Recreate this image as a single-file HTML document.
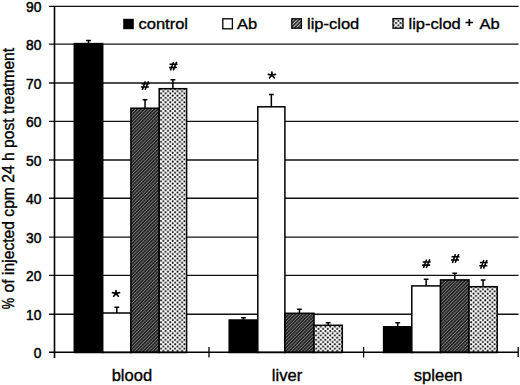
<!DOCTYPE html>
<html><head><meta charset="utf-8"><style>
html,body{margin:0;padding:0;background:#fff;}
body{width:520px;height:385px;overflow:hidden;position:relative;font-family:"Liberation Sans",sans-serif;}
svg{position:absolute;left:0;top:0;}
text{font-family:"Liberation Sans",sans-serif;fill:#000;}
</style></head><body>
<svg width="520" height="385" viewBox="0 0 520 385">
<defs>
<pattern id="hatch" patternUnits="userSpaceOnUse" width="2.4" height="2.4" patternTransform="rotate(-45)">
<rect width="2.4" height="2.4" fill="#222"/>
<rect width="2.4" height="0.8" fill="#828282"/>
</pattern>
<pattern id="hatchL" patternUnits="userSpaceOnUse" width="2.6" height="2.6" patternTransform="rotate(-45)">
<rect width="2.6" height="2.6" fill="#303030"/>
<rect width="2.6" height="1.0" fill="#c0c0c0"/>
</pattern>
<pattern id="dots" patternUnits="userSpaceOnUse" width="4.7" height="4.4">
<rect width="4.7" height="4.4" fill="#fff"/>
<circle cx="1.175" cy="1.1" r="1.0" fill="#000"/>
<circle cx="3.525" cy="3.3" r="1.0" fill="#000"/>
</pattern>
</defs>
<g stroke="#111" stroke-width="1.4">
<line x1="49" y1="6.4" x2="518.5" y2="6.4"/>
<line x1="49" y1="314.20" x2="518.5" y2="314.20"/>
<line x1="49" y1="275.40" x2="518.5" y2="275.40"/>
<line x1="49" y1="237.10" x2="518.5" y2="237.10"/>
<line x1="49" y1="198.30" x2="518.5" y2="198.30"/>
<line x1="49" y1="160.00" x2="518.5" y2="160.00"/>
<line x1="49" y1="121.40" x2="518.5" y2="121.40"/>
<line x1="49" y1="83.00" x2="518.5" y2="83.00"/>
<line x1="49" y1="44.10" x2="518.5" y2="44.10"/>
</g>
<g stroke="#000" stroke-width="1.5">
<rect x="74.3" y="43.6" width="28.4" height="308.90" fill="#000"/>
<rect x="102.7" y="313.0" width="28.2" height="39.50" fill="#fff"/>
<rect x="130.9" y="108.2" width="28.3" height="244.30" fill="url(#hatch)"/>
<rect x="159.2" y="88.7" width="27.4" height="263.80" fill="url(#dots)"/>
<rect x="229.2" y="320.0" width="28.6" height="32.50" fill="#000"/>
<rect x="257.8" y="106.8" width="27.1" height="245.70" fill="#fff"/>
<rect x="284.9" y="313.3" width="29.1" height="39.20" fill="url(#hatch)"/>
<rect x="314.0" y="325.3" width="28.3" height="27.20" fill="url(#dots)"/>
<rect x="383.6" y="326.8" width="28.2" height="25.70" fill="#000"/>
<rect x="411.8" y="285.9" width="28.7" height="66.60" fill="#fff"/>
<rect x="440.5" y="279.9" width="28.5" height="72.60" fill="url(#hatch)"/>
<rect x="469.0" y="286.7" width="28.2" height="65.80" fill="url(#dots)"/>
</g>
<g stroke="#000" stroke-width="1.5" fill="none">
<path d="M88.50 43.6V40.5M86.10 40.5H90.90"/>
<path d="M116.80 313.0V307.2M114.40 307.2H119.20"/>
<path d="M145.05 108.2V99.8M142.65 99.8H147.45"/>
<path d="M172.90 88.7V79.7M170.50 79.7H175.30"/>
<path d="M243.50 320.0V317.8M241.10 317.8H245.90"/>
<path d="M271.35 106.8V94.5M268.95 94.5H273.75"/>
<path d="M299.45 313.3V309.2M297.05 309.2H301.85"/>
<path d="M328.15 325.3V322.7M325.75 322.7H330.55"/>
<path d="M397.70 326.8V322.8M395.30 322.8H400.10"/>
<path d="M426.15 285.9V279.2M423.75 279.2H428.55"/>
<path d="M454.75 279.9V273.2M452.35 273.2H457.15"/>
<path d="M483.10 286.7V280.1M480.70 280.1H485.50"/>
</g>
<g stroke="#000" stroke-width="1.6">
<line x1="54.5" y1="6" x2="54.5" y2="358"/>
<line x1="49" y1="352.3" x2="518.5" y2="352.3" stroke-width="1.4"/>
<line x1="209" y1="347" x2="209" y2="357.5" stroke-width="1.3"/>
<line x1="363.6" y1="347" x2="363.6" y2="357.5" stroke-width="1.3"/>
<line x1="518.2" y1="347" x2="518.2" y2="357" stroke-width="1.3"/>
</g>
<g stroke="#000" stroke-width="0.35">
<text transform="translate(41.4,357.90) scale(1.0,1)" font-size="13.8" font-weight="normal" text-anchor="end" stroke-width="0.45">0</text>
<text transform="translate(41.4,319.80) scale(1.0,1)" font-size="13.8" font-weight="normal" text-anchor="end" stroke-width="0.45">10</text>
<text transform="translate(41.4,281.00) scale(1.0,1)" font-size="13.8" font-weight="normal" text-anchor="end" stroke-width="0.45">20</text>
<text transform="translate(41.4,242.70) scale(1.0,1)" font-size="13.8" font-weight="normal" text-anchor="end" stroke-width="0.45">30</text>
<text transform="translate(41.4,203.90) scale(1.0,1)" font-size="13.8" font-weight="normal" text-anchor="end" stroke-width="0.45">40</text>
<text transform="translate(41.4,165.60) scale(1.0,1)" font-size="13.8" font-weight="normal" text-anchor="end" stroke-width="0.45">50</text>
<text transform="translate(41.4,127.00) scale(1.0,1)" font-size="13.8" font-weight="normal" text-anchor="end" stroke-width="0.45">60</text>
<text transform="translate(41.4,88.60) scale(1.0,1)" font-size="13.8" font-weight="normal" text-anchor="end" stroke-width="0.45">70</text>
<text transform="translate(41.4,49.70) scale(1.0,1)" font-size="13.8" font-weight="normal" text-anchor="end" stroke-width="0.45">80</text>
<text transform="translate(41.4,11.95) scale(1.0,1)" font-size="13.8" font-weight="normal" text-anchor="end" stroke-width="0.45">90</text>
<text transform="translate(131.9,381.1) scale(1.035,1)" font-size="16" font-weight="normal" text-anchor="middle" >blood</text>
<text transform="translate(287.0,381.0) scale(1.035,1)" font-size="16" font-weight="normal" text-anchor="middle" >liver</text>
<text transform="translate(438.2,380.5) scale(1.035,1)" font-size="16" font-weight="normal" text-anchor="middle" >spleen</text>

<text transform="translate(14.3,309.2) rotate(-90) scale(0.83,1.08)" font-size="15.5">%</text>
<text transform="translate(14.3,292.4) rotate(-90) scale(1,1.08)" font-size="15.67">of injected cpm 24 h post treatment</text>
<text transform="translate(138.5,29) scale(1.065,1)" font-size="15.5" font-weight="normal" text-anchor="start" >control</text>
<text transform="translate(237,28.8) scale(1.065,1)" font-size="15.5" font-weight="normal" text-anchor="start" >Ab</text>
<text transform="translate(307,28.8) scale(1.065,1)" font-size="15.5" font-weight="normal" text-anchor="start" >lip-clod</text>
<text transform="translate(408.5,28.6) scale(1.065,1)" font-size="15.5" font-weight="normal" text-anchor="start" >lip-clod</text>
<text transform="translate(479.4,28.6) scale(1.065,1)" font-size="15.5" font-weight="normal" text-anchor="start" >Ab</text>
</g>
<rect x="123.2" y="18.8" width="10.6" height="10.4" fill="#000"/>
<rect x="222.8" y="18.8" width="9.6" height="10" fill="#fff" stroke="#000" stroke-width="1.3"/>
<rect x="291.8" y="18.8" width="9.6" height="9.4" fill="url(#hatchL)" stroke="#000" stroke-width="1.3"/>
<path d="M465.5 22.5H473.1M469.3 18.9V26" stroke="#000" stroke-width="1.65" fill="none"/>
<rect x="393" y="18.6" width="10" height="9.6" fill="url(#dots)" stroke="#000" stroke-width="1.3"/>
<g>
<path d="M116.00 293.40L116.00 290.60M116.00 293.40L112.50 292.70M116.00 293.40L119.50 292.70M116.00 293.40L113.70 296.20M116.00 293.40L118.30 296.20M271.90 75.00L271.90 72.20M271.90 75.00L268.40 74.30M271.90 75.00L275.40 74.30M271.90 75.00L269.60 77.80M271.90 75.00L274.20 77.80" stroke="#000" stroke-width="1.7" stroke-linecap="round" fill="none"/>
<path d="M142.30 89.90L145.40 81.30M145.10 89.80L148.60 81.20M141.50 83.70L149.40 83.70M140.90 86.90L148.90 86.90M170.40 70.50L173.50 61.90M173.20 70.40L176.70 61.80M169.60 64.30L177.50 64.30M169.00 67.50L177.00 67.50M423.50 268.10L426.60 259.50M426.30 268.00L429.80 259.40M422.70 261.90L430.60 261.90M422.10 265.10L430.10 265.10M452.40 262.90L455.50 254.30M455.20 262.80L458.70 254.20M451.60 256.70L459.50 256.70M451.00 259.90L459.00 259.90M480.70 268.70L483.80 260.10M483.50 268.60L487.00 260.00M479.90 262.50L487.80 262.50M479.30 265.70L487.30 265.70" stroke="#000" stroke-width="1.55" fill="none"/>
</g>
</svg>
</body></html>
